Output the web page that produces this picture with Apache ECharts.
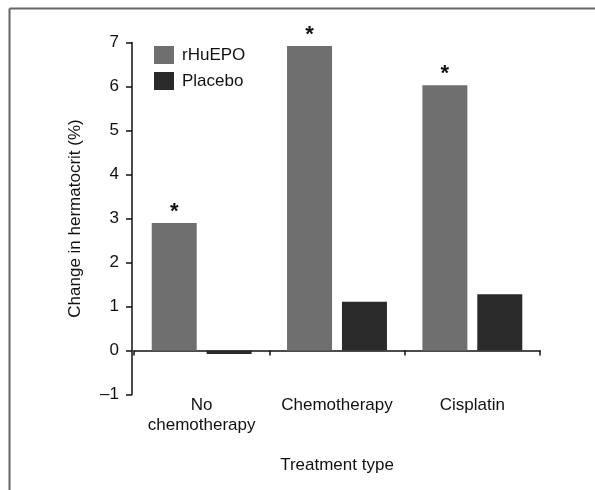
<!DOCTYPE html>
<html>
<head>
<meta charset="utf-8">
<script src="https://cdn.jsdelivr.net/npm/echarts@6/dist/echarts.min.js"></script>
<style>html,body{margin:0;padding:0;background:#fff;}#c{width:595px;height:490px;}</style>
</head>
<body>
<div id="c"></div>
<script>
var categories = ['No\nchemotherapy', 'Chemotherapy', 'Cisplatin'];
var rhuepo = [2.9, 6.92, 6.03];
var placebo = [-0.08, 1.11, 1.28];
var significance = ['*', '*', '*'];
var yTicks = { min: -1, max: 7, interval: 1 };

var font = 'Liberation Sans, Arial, sans-serif';
var chart = echarts.init(document.getElementById('c'), null, { renderer: 'canvas' });
chart.setOption({
  animation: false,
  backgroundColor: '#fff',
  graphic: [
    { type: 'line', shape: { x1: 9.5, y1: 8.5, x2: 595, y2: 8.5 }, style: { stroke: '#666', lineWidth: 2 } },
    { type: 'line', shape: { x1: 9.5, y1: 8.5, x2: 9.5, y2: 490 }, style: { stroke: '#666', lineWidth: 2 } }
  ],
  legend: {
    orient: 'vertical',
    left: 149, top: 41,
    itemWidth: 20, itemHeight: 18, itemGap: 8,
    icon: 'rect',
    textStyle: { fontFamily: font, fontSize: 17, color: '#111', padding: [0, 0, 0, 3] },
    data: ['rHuEPO', 'Placebo']
  },
  grid: { left: 134, right: 55, top: 42.5, bottom: 95.5 },
  xAxis: [
    {
      type: 'category', data: categories, position: 'bottom',
      axisLine: { onZero: true, lineStyle: { color: '#111', width: 1.5 } },
      axisTick: { show: true, length: 5, inside: false, lineStyle: { color: '#111', width: 1.5 } },
      axisLabel: { show: false }
    },
    {
      type: 'category', data: categories, position: 'bottom',
      axisLine: { onZero: false, show: false },
      axisTick: { show: false },
      axisLabel: { show: true, interval: 0, hideOverlap: false, margin: 1, fontFamily: font, fontSize: 17, color: '#111', lineHeight: 20 },
      name: 'Treatment type', nameLocation: 'middle', nameGap: 62,
      nameTextStyle: { fontFamily: font, fontSize: 17, color: '#111' }
    }
  ],
  yAxis: {
    type: 'value', min: yTicks.min, max: yTicks.max, interval: yTicks.interval,
    offset: 2,
    splitLine: { show: false },
    axisLine: { show: true, lineStyle: { color: '#111', width: 1.5 } },
    axisTick: { show: true, length: 6, lineStyle: { color: '#111', width: 1.5 } },
    axisLabel: {
      fontFamily: font, fontSize: 17, color: '#111', margin: 13,
      formatter: function (v) { return v < 0 ? '\u2013' + Math.abs(v) : String(v); }
    },
    name: 'Change in hermatocrit (%)', nameLocation: 'middle', nameGap: 48,
    nameTextStyle: { fontFamily: font, fontSize: 17, color: '#111' }
  },
  series: [
    {
      name: 'rHuEPO', type: 'bar', data: rhuepo, barWidth: 45, barGap: '22%',
      itemStyle: { color: '#6f6f6f' },
      label: {
        show: true, position: 'top', distance: 0,
        formatter: function (p) { return significance[p.dataIndex]; },
        fontFamily: font, fontSize: 22, fontWeight: 'bold', color: '#111'
      }
    },
    {
      name: 'Placebo', type: 'bar', data: placebo, barWidth: 45, barGap: '22%',
      itemStyle: { color: '#2a2a2a' }
    }
  ]
});
</script>
</body>
</html>
